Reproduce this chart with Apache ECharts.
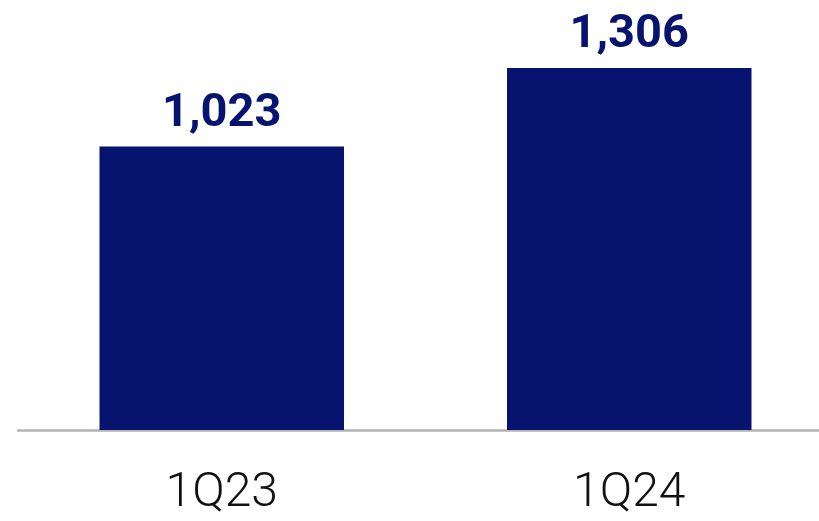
<!DOCTYPE html>
<html>
<head>
<meta charset="utf-8">
<script src="https://cdn.jsdelivr.net/npm/echarts@6/dist/echarts.min.js"></script>
<style>
  html, body { margin: 0; padding: 0; background: #ffffff; overflow: hidden; }
  #chart { width: 819px; height: 521px; }
</style>
</head>
<body>
<div id="chart"></div>
<script>
// Quarterly totals
const categories = ['1Q23', '1Q24'];
const values = [1023, 1306];

const navy = '#061470';

const chart = echarts.init(document.getElementById('chart'), null, { renderer: 'canvas' });

chart.setOption({
  animation: false,
  backgroundColor: '#ffffff',
  // the plot area runs a little past the right edge of the canvas
  grid: { left: 18, width: 815, top: 42, bottom: 91, containLabel: false, outerBoundsMode: 'none' },
  xAxis: {
    type: 'category',
    data: categories,
    axisLine: { show: true, lineStyle: { color: '#b3b3b3', width: 2.5 } },
    axisTick: { show: false },
    axisLabel: {
      color: '#111111',
      fontFamily: 'Roboto',
      fontWeight: 300,
      fontSize: 48,
      margin: 40
    }
  },
  yAxis: {
    type: 'value',
    min: 0,
    max: 1400,
    show: false,
    splitLine: { show: false }
  },
  series: [{
    type: 'bar',
    data: values,
    barWidth: '60%',
    itemStyle: { color: navy },
    label: {
      show: true,
      position: 'top',
      distance: 9,
      color: navy,
      fontFamily: 'Roboto',
      fontWeight: 'bold',
      fontSize: 47,
      formatter: p => p.value.toLocaleString('en-US')
    }
  }]
});
</script>
</body>
</html>
